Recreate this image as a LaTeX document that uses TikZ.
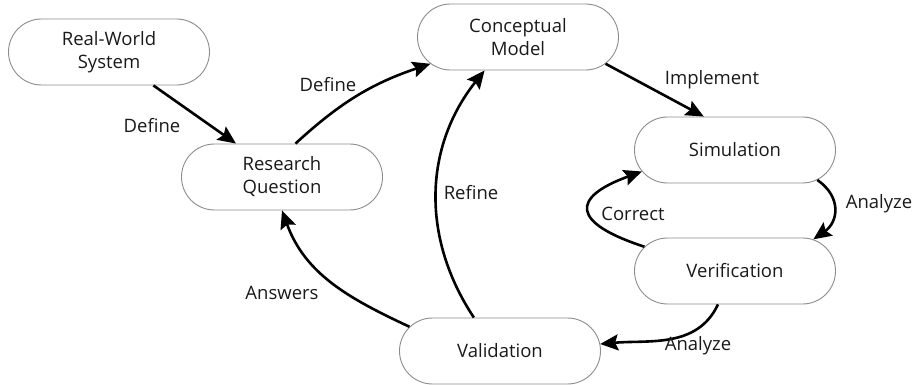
\documentclass[tikz,border=0pt]{standalone}
\usepackage{fontspec}
\setmainfont{Open Sans}
\usetikzlibrary{shapes.misc,arrows.meta}
\begin{document}
\begin{tikzpicture}[x=1pt,y=-1pt,
  stage/.style={rounded rectangle, draw=black!45, line width=0.9pt,
    minimum width=205pt, minimum height=66pt, inner sep=2pt,
    align=center, font=\fontsize{18.5}{23}\selectfont, text=black!90},
  lbl/.style={font=\fontsize{18.5}{23}\selectfont, text=black!90, inner sep=0pt},
  flow/.style={line width=2.6pt, -{Stealth[length=18pt,width=16pt,inset=3pt]}}]
\useasboundingbox (0,0) rectangle (919,385);
\node[stage] (rws) at (109,52) {Real-World\\System};
\node[stage] (rq) at (282,177) {Research\\Question};
\node[stage] (cm) at (518,37) {Conceptual\\Model};
\node[stage] (sim) at (735,150) {Simulation};
\node[stage] (ver) at (735,271) {Verification};
\node[stage] (val) at (500,351) {Validation};

\draw[flow] (rws.323) -- (rq.144);
\draw[flow] (rq.68) to[bend left=12] (cm.197);
\draw[flow] (val.128) to[bend left=36] (cm.225);
\draw[flow] (cm.343) -- (sim.133);
\draw[flow] (sim.340) to[out=-35,in=35,looseness=1.3] (ver.22);
\draw[flow] (ver.165) to[out=162,in=200,looseness=2.6] (sim.193);
\draw[flow] (ver.243) to[out=245,in=5] (val.4);
\draw[flow] (val.165) to[out=155,in=290] (rq.270);

\node[lbl] (l1) at (152,126) {Define};
\node[lbl] (l2) at (328,85) {Define};
\node[lbl] (l3) at (712,80) {Implement};
\node[lbl] (l4) at (471,193) {Refine};
\node[lbl] (l5) at (633,214) {Correct};
\node[lbl] (l6) at (879,204) {Analyze};
\node[lbl] (l7) at (698,346) {Analyze};
\node[lbl] (l8) at (282,293) {Answers};
\end{tikzpicture}
\end{document}
